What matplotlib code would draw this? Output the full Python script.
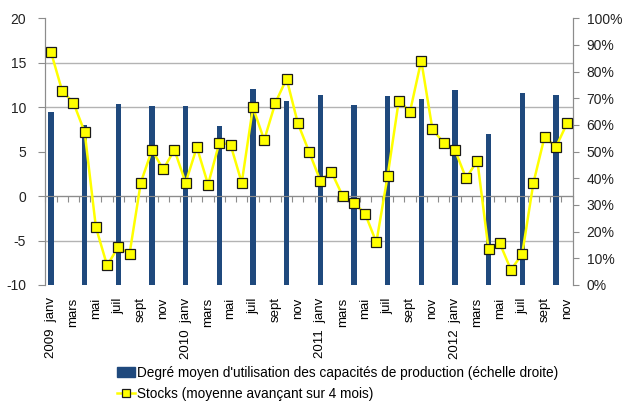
import numpy as np
import matplotlib
matplotlib.use('Agg')
import matplotlib.pyplot as plt
from matplotlib.patches import Patch
from matplotlib.lines import Line2D

nan = np.nan

years = ['2009', '2010', '2011', '2012']
month_names = ['janv', 'févr', 'mars', 'avr', 'mai', 'juin',
               'juil', 'août', 'sept', 'oct', 'nov', 'déc']

# Stocks, monthly, janv 2009 - nov 2012 (left axis)
stocks = [16.2, 11.8, 10.5, 7.2, -3.5, -7.8, -5.7, -6.5, 1.5, 5.2, 3.0, 5.2,
          1.5, 5.5, 1.3, 6.0, 5.8, 1.5, 10.0, 6.3, 10.5, 13.2, 8.2, 5.0,
          1.75, 2.7, 0.0, -0.75, -2.0, -5.2, 2.25, 10.75, 9.5, 15.25, 7.5, 6.0,
          5.2, 2.0, 4.0, -6.0, -5.3, -8.3, -6.5, 1.5, 6.7, 5.5, 8.2]

# capacity utilisation, quarterly (right axis, %)
capacity = [64.8, nan, nan, 60.1, nan, nan, 67.9, nan, nan, 67.1, nan, nan,
            67.0, nan, nan, 59.6, nan, nan, 73.4, nan, nan, 69.1, nan, nan,
            71.1, nan, nan, 67.5, nan, nan, 71.0, nan, nan, 69.9, nan, nan,
            73.0, nan, nan, 56.5, nan, nan, 72.0, nan, nan, 71.4, nan]

bar_label = "Degré moyen d'utilisation des capacités de production (échelle droite)"
line_label = "Stocks (moyenne avançant sur 4 mois)"

months = []
for y in years:
    for i, m in enumerate(month_names):
        months.append(y + '  ' + m if i == 0 else m)
months = months[:len(stocks)]

font = ['Liberation Sans', 'DejaVu Sans']
grey = '#8c8c8c'

fig = plt.figure(figsize=(6.24, 4.03), dpi=100)
ax = fig.add_axes([45.4 / 624, 1 - 285 / 403, 527.3 / 624, 266.7 / 403])

x = np.arange(len(stocks))
cap = np.array(capacity)
has = ~np.isnan(cap)
ax.bar(x[has], cap[has], width=0.47, color='#1F497D', zorder=2)
ax.set_xlim(-0.5, len(stocks) - 0.5)
ax.set_ylim(0, 100)

ax2 = ax.twinx()

# bars scale on the right, stocks scale on the left
ax.yaxis.tick_right()
ax.yaxis.set_label_position('right')
ax2.yaxis.tick_left()
ax2.yaxis.set_label_position('left')

ax.set_yticks(np.arange(0, 101, 10))
ax.set_yticklabels([f'{v}%' for v in range(0, 101, 10)], family=font, fontsize=10, color='#222222')
ax.tick_params(axis='y', which='major', direction='out', length=4, color=grey, pad=6)
# grid follows the left scale (-10..20 step 5)
ax.set_yticks(np.linspace(0, 100, 7), minor=True)
ax.tick_params(axis='y', which='minor', length=0)
ax.grid(which='minor', axis='y', color='#b3b3b3', lw=1.0, zorder=0)
ax.set_axisbelow(True)

ax.set_xticks(x[::2])
ax.set_xticklabels(months[::2], rotation=90, family=font, fontsize=9.5, va='top', ha='center')
ax.tick_params(axis='x', length=0, pad=9)
for s in ax.spines.values():
    s.set_color(grey)
ax.spines['top'].set_visible(False)
ax.spines['bottom'].set_visible(False)

ax2.set_ylim(-10, 20)
ax2.set_yticks(np.arange(-10, 21, 5))
ax2.set_yticklabels([str(v) for v in range(-10, 21, 5)], family=font, fontsize=10, color='#222222')
ax2.tick_params(axis='y', direction='out', length=5, color=grey, pad=9)
for s in ax2.spines.values():
    s.set_color(grey)
ax2.spines['top'].set_visible(False)
ax2.spines['bottom'].set_visible(False)

ax2.plot(x, stocks, color='#FFFF00', lw=1.8, marker='s', ms=7, mfc='#FFFF00',
         mec='#1a1a1a', mew=0.9, clip_on=False, zorder=3)

# horizontal axis through zero with category ticks
sec = ax2.secondary_xaxis(0, transform=ax2.transData)
sec.set_xticks(np.arange(-0.5, len(stocks), 1))
sec.set_xticklabels([])
sec.tick_params(direction='out', length=4, color=grey)
sec.spines['bottom'].set_color(grey)

handles = [Patch(color='#1F497D'),
           Line2D([], [], color='#FFFF00', lw=1.8, marker='s', ms=6, mfc='#FFFF00', mec='#1a1a1a', mew=0.9)]
fig.legend(handles, [bar_label, line_label], loc='upper left',
           bbox_to_anchor=(117 / 624, 1 - 366 / 403), frameon=False,
           prop={'family': font, 'size': 9.8}, handlelength=1.35,
           handletextpad=0.1, labelspacing=0.5, borderpad=0, borderaxespad=0)

fig.savefig('out.png', dpi=100)
